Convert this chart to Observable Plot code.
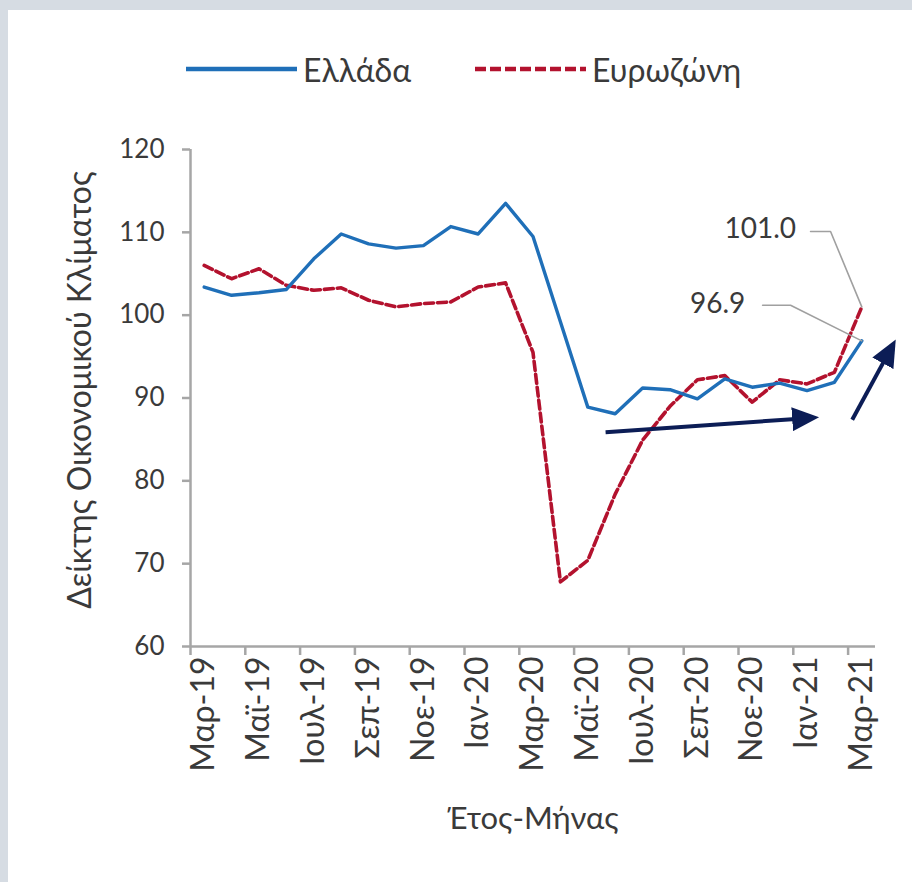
<!DOCTYPE html>
<html>
<head>
<meta charset="utf-8">
<script src="https://cdn.jsdelivr.net/npm/d3@7"></script>
<script src="https://cdn.jsdelivr.net/npm/@observablehq/plot@0.6"></script>
<style>
  html, body { margin: 0; padding: 0; }
  body { width: 912px; height: 882px; background: #d6dce3; position: relative; overflow: hidden;
         font-family: Lato, "Noto Sans", sans-serif; color: #3a3a3a; }
  #panel { position: absolute; left: 8px; top: 10px; width: 904px; height: 872px; background: #ffffff; }
  .leg { position: absolute; top: 39px; height: 40px; display: flex; align-items: center; font-size: 32px; color: #3a3a3a; }
  .leg svg { margin-right: 6px; }
  #chart { position: absolute; left: 0; top: 90px; }
</style>
</head>
<body>
<div id="panel">
  <div class="leg" id="leg1" style="left:178px"></div>
  <div class="leg" id="leg2" style="left:467px"></div>
  <div id="chart"></div>
</div>
<script>
// ---- data ----
const months = ["Μαρ-19","Απρ-19","Μαϊ-19","Ιουν-19","Ιουλ-19","Αυγ-19","Σεπ-19","Οκτ-19","Νοε-19","Δεκ-19","Ιαν-20","Φεβ-20",
                "Μαρ-20","Απρ-20","Μαϊ-20","Ιουν-20","Ιουλ-20","Αυγ-20","Σεπ-20","Οκτ-20","Νοε-20","Δεκ-20","Ιαν-21","Φεβ-21","Μαρ-21"];
const greece = [103.4,102.4,102.7,103.1,106.8,109.8,108.6,108.1,108.4,110.7,109.8,113.5,
                109.5,99.2,88.9,88.1,91.2,91.0,89.9,92.3,91.3,91.8,90.9,91.9,96.9];
const eurozone = [106.0,104.4,105.6,103.6,103.0,103.3,101.8,101.0,101.4,101.6,103.4,103.9,
                  95.5,67.8,70.4,78.4,84.9,89.0,92.2,92.7,89.5,92.2,91.7,93.1,101.0];
const seriesNames = ["Ελλάδα", "Ευρωζώνη"];
const yTicks = [60,70,80,90,100,110,120];
const yTitle = "Δείκτης Οικονομικού Κλίματος";
const xTitle = "Έτος-Μήνας";
// annotation labels (value, position in index/value units)
const labels = [
  {text: "101.0", x: 21.6, y: 110.4},
  {text: "96.9", x: 19.75, y: 101.4}
];
const leaders = [
  {id: "ez", x: 22.13, y: 110.1}, {id: "ez", x: 22.86, y: 110.1}, {id: "ez", x: 24, y: 101.0},
  {id: "gr", x: 20.38, y: 101.2}, {id: "gr", x: 21.4, y: 101.2}, {id: "gr", x: 24, y: 96.9}
];
const arrows = [
  {x1: 14.65, y1: 85.87, x2: 22.15, y2: 87.6},
  {x1: 23.65, y1: 87.37, x2: 25.1, y2: 96.2}
];

// ---- styles ----
const BLUE = "#1f6fb8", RED = "#b3122e", NAVY = "#0c1d56", AXIS = "#a6a6a6", TXT = "#3a3a3a";

const rows = months.map((m, i) => ({i, m, gr: greece[i], ez: eurozone[i]}));
const labelIdx = months.map((m, i) => i).filter(i => i % 2 === 0);
const boundaries = labelIdx.map(i => i - 0.5);
const xDomain = [-0.5, months.length - 0.5];
const yDomain = [yTicks[0], yTicks[yTicks.length - 1]];

function headMarker(color, context) {
  const doc = (context && context.document) || document;
  const ns = "http://www.w3.org/2000/svg";
  const m = doc.createElementNS(ns, "marker");
  m.setAttribute("viewBox", "-27 -12 27 24");
  m.setAttribute("markerWidth", "27");
  m.setAttribute("markerHeight", "24");
  m.setAttribute("markerUnits", "userSpaceOnUse");
  m.setAttribute("refX", "-8");
  m.setAttribute("refY", "0");
  m.setAttribute("orient", "auto");
  const p = doc.createElementNS(ns, "path");
  p.setAttribute("d", "M-27,-12L0,0L-27,12Z");
  p.setAttribute("fill", color);
  p.setAttribute("stroke", "none");
  m.appendChild(p);
  return m;
}

const chart = Plot.plot({
  width: 904,
  height: 782,
  marginLeft: 182,
  marginRight: 37,
  marginTop: 49,
  marginBottom: 236,
  style: {fontFamily: 'Lato, "Noto Sans", sans-serif', color: TXT, background: "transparent", overflow: "visible"},
  x: {domain: xDomain, axis: null},
  y: {domain: yDomain, axis: null},
  marks: [
    Plot.axisY(yTicks, {tickSize: 8, tickPadding: 18, stroke: AXIS, strokeWidth: 2.5, fontSize: 26, fill: TXT, label: null}),
    Plot.axisX(labelIdx, {tickSize: 0, tickPadding: 10, tickRotate: -90, fontSize: 32, fill: TXT,
                          tickFormat: i => months[i], label: null}),
    Plot.axisX(boundaries, {tickSize: 9, stroke: AXIS, strokeWidth: 2.5, tickFormat: () => "", label: null}),
    Plot.ruleX([xDomain[0]], {stroke: AXIS, strokeWidth: 2.5}),
    Plot.ruleY([yDomain[0]], {stroke: AXIS, strokeWidth: 2.5}),
    Plot.text([yTitle], {frameAnchor: "left", textAnchor: "middle", rotate: -90, dx: -110, dy: -8, fontSize: 32, fill: TXT}),
    Plot.text([xTitle], {frameAnchor: "bottom", textAnchor: "middle", dy: 182, fontSize: 31, fill: TXT}),
    Plot.line(rows, {x: "i", y: "ez", stroke: RED, strokeWidth: 3.6, strokeDasharray: "9,4", strokeLinejoin: "round"}),
    Plot.line(rows, {x: "i", y: "gr", stroke: BLUE, strokeWidth: 3.4, strokeLinejoin: "round"}),
    Plot.line(leaders, {x: "x", y: "y", z: "id", stroke: "#a0a0a0", strokeWidth: 1.6}),
    Plot.text(labels, {x: "x", y: "y", text: "text", textAnchor: "end", fontSize: 28, fill: TXT}),
    Plot.link(arrows, {x1: "x1", y1: "y1", x2: "x2", y2: "y2", stroke: NAVY, strokeWidth: 4, markerEnd: headMarker})
  ]
});
document.getElementById("chart").appendChild(chart);

// legend
function legendItem(el, name, color, dash) {
  const svg = d3.create("svg").attr("width", 111).attr("height", 10);
  svg.append("line").attr("x1", 0).attr("x2", 111).attr("y1", 5).attr("y2", 5)
     .attr("stroke", color).attr("stroke-width", 4.5).attr("stroke-dasharray", dash || null);
  el.appendChild(svg.node());
  const s = document.createElement("span");
  s.textContent = name;
  el.appendChild(s);
}
legendItem(document.getElementById("leg1"), seriesNames[0], BLUE, null);
legendItem(document.getElementById("leg2"), seriesNames[1], RED, "11,4");
</script>
</body>
</html>
